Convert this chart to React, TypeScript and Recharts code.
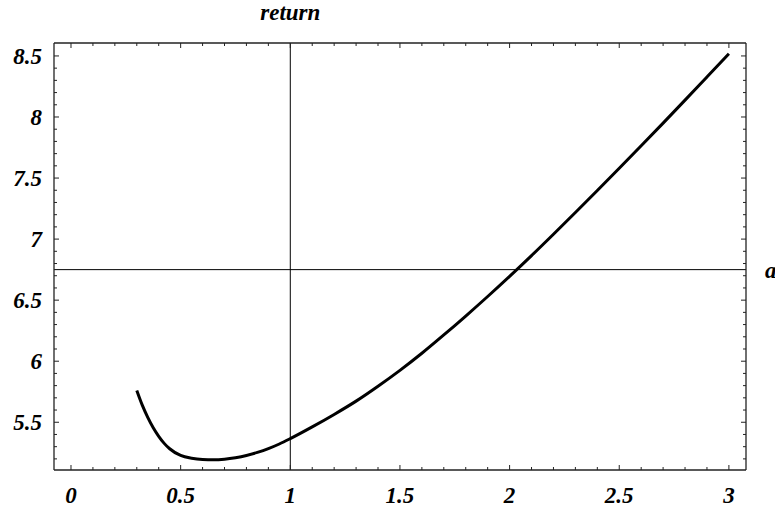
import { Line, LineChart, ReferenceLine, XAxis, YAxis } from "recharts";

// curve
const aValues = [
  0.3, 0.325, 0.35, 0.375, 0.4, 0.425, 0.45, 0.5, 0.55, 0.6, 0.65, 0.7, 0.75,
  0.8, 0.85, 0.9, 0.95, 1.0, 1.1, 1.2, 1.3, 1.4, 1.5, 1.6, 1.7, 1.8, 1.9, 2.0,
  2.1, 2.2, 2.3, 2.4, 2.5, 2.6, 2.7, 2.8, 2.9, 3.0,
];
const returnValues = [
  5.76, 5.64, 5.54, 5.455, 5.385, 5.327, 5.283, 5.228, 5.205, 5.195, 5.193,
  5.198, 5.21, 5.228, 5.253, 5.284, 5.322, 5.366, 5.462, 5.564, 5.673, 5.795,
  5.925, 6.065, 6.215, 6.37, 6.53, 6.695, 6.865, 7.04, 7.218, 7.398, 7.58,
  7.764, 7.95, 8.138, 8.328, 8.518,
];

const xTicks = [
  0, 0.1, 0.2, 0.3, 0.4, 0.5, 0.6, 0.7, 0.8, 0.9, 1, 1.1, 1.2, 1.3, 1.4, 1.5,
  1.6, 1.7, 1.8, 1.9, 2, 2.1, 2.2, 2.3, 2.4, 2.5, 2.6, 2.7, 2.8, 2.9, 3,
];
const yTicks = [
  5.2, 5.3, 5.4, 5.5, 5.6, 5.7, 5.8, 5.9, 6, 6.1, 6.2, 6.3, 6.4, 6.5, 6.6, 6.7,
  6.8, 6.9, 7, 7.1, 7.2, 7.3, 7.4, 7.5, 7.6, 7.7, 7.8, 7.9, 8, 8.1, 8.2, 8.3,
  8.4, 8.5,
];

const xDomain = [-0.0775, 3.078];
const yDomain = [5.109, 8.606];
const crossA = 1;
const crossReturn = 6.75;

const data = aValues.map((a, i) => ({ a, ret: returnValues[i] }));

const FONT = "'Liberation Serif', 'DejaVu Serif', serif";
const FRAME = "#222";
const textStyle = {
  fontFamily: FONT,
  fontWeight: 700,
  fontStyle: "italic",
  fontSize: 23,
};

const isMajor = (v: number) => Math.abs(v * 2 - Math.round(v * 2)) < 1e-6;
const fmt = (v: number) => String(Math.round(v * 10) / 10);

const BottomTick = (props: any) => {
  const { x, y, payload } = props;
  const major = isMajor(payload.value);
  return (
    <g>
      <line x1={x} x2={x} y1={y} y2={y - (major ? 5 : 3)} stroke={FRAME} />
      {major && (
        <text x={x} y={y + 33} textAnchor="middle" fill="#000" style={textStyle}>
          {fmt(payload.value)}
        </text>
      )}
    </g>
  );
};

const TopTick = (props: any) => {
  const { x, y, payload } = props;
  const major = isMajor(payload.value);
  return <line x1={x} x2={x} y1={y} y2={y + (major ? 5 : 3)} stroke={FRAME} />;
};

const LeftTick = (props: any) => {
  const { x, y, payload } = props;
  const major = isMajor(payload.value);
  return (
    <g>
      <line x1={x} x2={x + (major ? 5 : 3)} y1={y} y2={y} stroke={FRAME} />
      {major && (
        <text x={x - 12} y={y + 8} textAnchor="end" fill="#000" style={textStyle}>
          {fmt(payload.value)}
        </text>
      )}
    </g>
  );
};

const RightTick = (props: any) => {
  const { x, y, payload } = props;
  const major = isMajor(payload.value);
  return <line x1={x} x2={x - (major ? 5 : 3)} y1={y} y2={y} stroke={FRAME} />;
};

const axisLine = { stroke: FRAME, strokeWidth: 1.3 };

const App = () => {
  return (
    <div style={{ position: "absolute", left: 0, top: 0, width: 775, height: 511 }}>
      <LineChart
        width={775}
        height={511}
        data={data}
        margin={{ top: 0, right: 0, left: 0, bottom: 0 }}
        style={{ fontFamily: FONT }}
      >
        <XAxis
          dataKey="a"
          type="number"
          domain={xDomain}
          ticks={xTicks}
          interval={0}
          allowDataOverflow
          height={41}
          tickSize={0}
          tickMargin={0}
          axisLine={axisLine}
          tick={BottomTick}
        />
        <XAxis
          xAxisId="top"
          orientation="top"
          dataKey="a"
          type="number"
          domain={xDomain}
          ticks={xTicks}
          interval={0}
          allowDataOverflow
          height={43}
          tickSize={0}
          tickMargin={0}
          axisLine={axisLine}
          tick={TopTick}
        />
        <YAxis
          type="number"
          domain={yDomain}
          ticks={yTicks}
          interval={0}
          allowDataOverflow
          width={54}
          tickSize={0}
          tickMargin={0}
          axisLine={axisLine}
          tick={LeftTick}
        />
        <YAxis
          yAxisId="right"
          orientation="right"
          type="number"
          domain={yDomain}
          ticks={yTicks}
          interval={0}
          allowDataOverflow
          width={29}
          tickSize={0}
          tickMargin={0}
          axisLine={axisLine}
          tick={RightTick}
        />
        <ReferenceLine
          x={crossA}
          stroke="#000"
          strokeWidth={1}
          label={{
            value: "return",
            position: "top",
            offset: 23,
            fill: "#000",
            style: textStyle,
          }}
        />
        <ReferenceLine
          y={crossReturn}
          stroke="#000"
          strokeWidth={1}
          label={{
            value: "a",
            position: "right",
            offset: 19,
            fill: "#000",
            style: textStyle,
          }}
        />
        <Line
          dataKey="ret"
          type="monotone"
          stroke="#000"
          strokeWidth={3}
          dot={false}
          isAnimationActive={false}
        />
      </LineChart>
    </div>
  );
};

export default App;
